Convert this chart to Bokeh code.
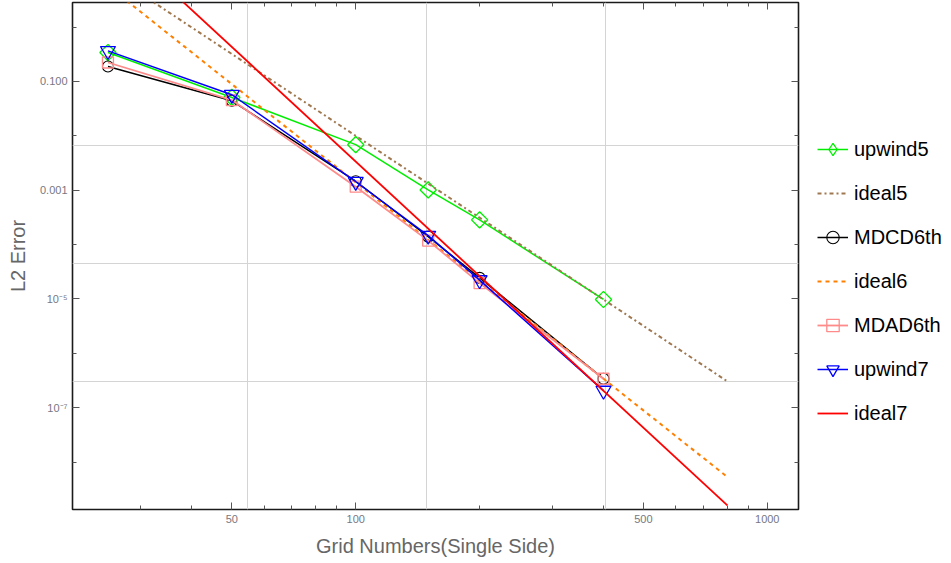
from bokeh.plotting import figure
from bokeh.layouts import row
from bokeh.models import (LogAxis, FixedTicker, CustomJSTickFormatter, Legend,
                          LegendItem, Range1d)
from bokeh.embed import file_html
from bokeh.resources import INLINE

# ---------------- data ----------------
grid_n = [25, 50, 100, 150, 200, 400]
upwind5 = [0.340, 0.0508, 0.00687, 0.00101, 2.84e-4, 9.77e-6]
mdcd6 = [0.188, 0.0441, 0.00146, 1.40e-4, 2.44e-5, 3.4e-7]
mdad6 = [0.223, 0.0455, 0.00116, 1.18e-4, 1.95e-5, 3.4e-7]
upwind7 = [0.365, 0.0569, 0.00143, 1.46e-4, 2.22e-5, 2.06e-7]

ideal_n = [25, 800]
ideal5 = [10.24, 3.05e-7]
ideal6 = [5.70, 5.31e-9]
ideal7 = [55.0, 1.6e-9]

x_major = [50, 100, 500, 1000]
x_labels = ["50", "100", "500", "1000"]
x_minor = [30, 40, 60, 70, 80, 90, 200, 300, 400, 600, 700, 800, 900]
y_major = [0.1, 0.001, 1e-5, 1e-7]
y_labels = ["0.100", "0.001", "10\u207b\u2075", "10\u207b\u2077"]
y_minor = [1.0, 0.01, 1e-4, 1e-6, 1e-8]
x_grid = [54.6, 148.4, 403.4]
y_grid = [6.74e-3, 4.54e-5, 3.06e-7]

FONT = "Liberation Sans"

p = figure(width=800, height=563, x_axis_type="log", y_axis_type="log",
           x_range=Range1d(20.5, 1191), y_range=Range1d(1.34e-9, 2.83),
           output_backend="svg", toolbar_location=None,
           min_border_left=72, min_border_right=2,
           min_border_top=2, min_border_bottom=54)
p.background_fill_color = "white"
p.border_fill_color = "white"
p.outline_line_color = "#1a1a1a"
p.outline_line_width = 1.6

code = """
let best = 0, bd = 1e9;
for (let i = 0; i < vals.length; i++) {
  const d = Math.abs(Math.log10(tick) - Math.log10(vals[i]));
  if (d < bd) { bd = d; best = i; }
}
return labs[best];
"""
blank = CustomJSTickFormatter(code="return '';")


def style_axis(ax, labelled):
    ax.axis_line_color = None
    ax.major_tick_in = 7
    ax.major_tick_out = 0
    ax.minor_tick_in = 4
    ax.minor_tick_out = 0
    ax.major_tick_line_color = "#555555"
    ax.minor_tick_line_color = "#555555"
    ax.major_tick_line_width = 1
    ax.minor_tick_line_width = 1
    if labelled:
        ax.major_label_text_font = FONT
        ax.major_label_text_font_size = "11px"
        ax.major_label_text_color = "#777782"
        ax.major_label_standoff = 5
        ax.axis_label_text_font = FONT
        ax.axis_label_text_font_size = "20px"
        ax.axis_label_text_font_style = "normal"
        ax.axis_label_text_color = "#666666"
    else:
        ax.major_label_text_font_size = "0px"
        ax.major_label_standoff = 0


xax = p.xaxis[0]
xax.ticker = FixedTicker(ticks=x_major, minor_ticks=x_minor)
xax.formatter = CustomJSTickFormatter(args=dict(vals=x_major, labs=x_labels), code=code)
xax.axis_label = "Grid Numbers(Single Side)"
style_axis(xax, True)
xax.axis_label_standoff = 9

yax = p.yaxis[0]
yax.ticker = FixedTicker(ticks=y_major, minor_ticks=y_minor)
yax.formatter = CustomJSTickFormatter(args=dict(vals=y_major, labs=y_labels), code=code)
yax.axis_label = "L2 Error"
style_axis(yax, True)
yax.axis_label_standoff = 8

top = LogAxis(ticker=FixedTicker(ticks=x_major, minor_ticks=x_minor), formatter=blank)
style_axis(top, False)
p.add_layout(top, "above")
right = LogAxis(ticker=FixedTicker(ticks=y_major, minor_ticks=y_minor), formatter=blank)
style_axis(right, False)
p.add_layout(right, "right")

p.xgrid.ticker = FixedTicker(ticks=x_grid)
p.ygrid.ticker = FixedTicker(ticks=y_grid)
for g in (p.xgrid, p.ygrid):
    g.grid_line_color = "#d4d4d4"
    g.grid_line_width = 1

# legend panel: a second figure holding hidden copies of the series
q = figure(width=151, height=563, x_axis_type="log", y_axis_type="log",
           x_range=Range1d(20.5, 1191), y_range=Range1d(1.34e-9, 2.83),
           output_backend="svg", toolbar_location=None,
           x_axis_location=None, y_axis_location=None, min_border=0)
q.outline_line_color = None
q.grid.visible = False
q.background_fill_color = "white"
q.border_fill_color = "white"

series = [
    ("upwind5", grid_n, upwind5, dict(line_color="#00ee00", line_width=1.5),
     dict(marker="square", angle=0.7853981, size=11.5, line_color="#00ee00", line_width=1.3)),
    ("ideal5", ideal_n, ideal5, dict(line_color="#a07850", line_width=2, line_dash="4 3 2 3"), None),
    ("MDCD6th", grid_n, mdcd6, dict(line_color="black", line_width=1.5),
     dict(marker="circle", size=11, line_color="black", line_width=1.1)),
    ("ideal6", ideal_n, ideal6, dict(line_color="#ff8000", line_width=2, line_dash="4 4"), None),
    ("MDAD6th", grid_n, mdad6, dict(line_color="#ff8a8a", line_width=1.8),
     dict(marker="square", size=11, line_color="#ff8a8a", line_width=1.3)),
    ("upwind7", grid_n, upwind7, dict(line_color="#0000ff", line_width=1.5),
     dict(marker="inverted_triangle", size=15, line_color="#0000ff", line_width=1.3)),
    ("ideal7", ideal_n, ideal7, dict(line_color="#ff0000", line_width=1.8), None),
]

items = []
for label, xs, ys, lkw, skw in series:
    p.line(xs, ys, **lkw)
    rs = [q.line(xs, ys, visible=False, **lkw)]
    if skw is not None:
        p.scatter(xs, ys, fill_color=None, **skw)
        lg = dict(skw)
        if lg.get("angle"):
            # the legend never rotates markers, so use a diamond there
            lg.pop("angle")
            lg["marker"] = "diamond"
        rs.append(q.scatter(xs, ys, fill_color=None, visible=False, **lg))
    items.append(LegendItem(label=label, renderers=rs))

legend = Legend(items=items, location=(17, 80), orientation="vertical",
                glyph_width=31, glyph_height=32, label_height=32, spacing=12,
                label_standoff=6, padding=0, margin=0, click_policy="none",
                border_line_color=None, background_fill_color=None,
                label_text_font=FONT, label_text_font_size="20px",
                label_text_color="black")
q.add_layout(legend, "center")

layout = row(p, q, spacing=0)
open("out.html", "w").write(file_html(layout, INLINE))
